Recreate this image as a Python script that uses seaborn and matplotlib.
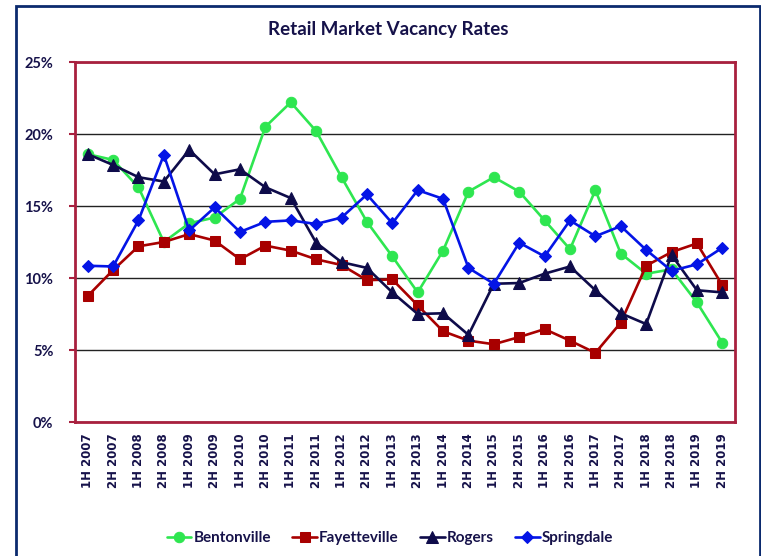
import matplotlib
matplotlib.use("Agg")
import matplotlib.pyplot as plt
from matplotlib.patches import Rectangle
from matplotlib.ticker import FuncFormatter
import seaborn as sns
import pandas as pd

periods = [f"{h} {y}" for y in range(2007, 2020) for h in ("1H", "2H")]

bentonville = [18.6, 18.2, 16.3, 12.5, 13.8, 14.2, 15.5, 20.5, 22.2, 20.2, 17.0, 13.9, 11.5,
               9.0, 11.9, 16.0, 17.0, 16.0, 14.0, 12.0, 16.1, 11.7, 10.3, 10.6, 8.3, 5.5]
fayetteville = [8.75, 10.55, 12.2, 12.5, 13.05, 12.6, 11.3, 12.25, 11.9, 11.3, 10.9, 9.85, 9.9,
                8.1, 6.3, 5.65, 5.4, 5.9, 6.45, 5.65, 4.8, 6.9, 10.85, 11.8, 12.4, 9.5]
rogers = [18.6, 17.85, 17.0, 16.7, 18.9, 17.2, 17.55, 16.3, 15.55, 12.45, 11.1, 10.7, 9.0,
          7.5, 7.55, 6.05, 9.6, 9.65, 10.3, 10.8, 9.15, 7.55, 6.8, 11.6, 9.15, 9.0]
springdale = [10.85, 10.8, 14.0, 18.55, 13.3, 14.9, 13.2, 13.9, 14.0, 13.75, 14.2, 15.8, 13.8,
              16.1, 15.5, 10.7, 9.6, 12.45, 11.5, 14.0, 12.9, 13.6, 11.95, 10.5, 10.95, 12.1]

cities = ["Bentonville", "Fayetteville", "Rogers", "Springdale"]
series = [bentonville, fayetteville, rogers, springdale]
colors = {"Bentonville": "#2ee650", "Fayetteville": "#a80000",
          "Rogers": "#0e0b4a", "Springdale": "#0414e6"}
markers = {"Bentonville": "o", "Fayetteville": "s", "Rogers": "^", "Springdale": "D"}
msizes = {"Bentonville": 7.5, "Fayetteville": 7.5, "Rogers": 8.0, "Springdale": 6.5}

df = pd.DataFrame({
    "period": [p for _ in cities for p in periods],
    "rate": [v for s in series for v in s],
    "city": [c for c in cities for _ in periods],
})

sns.set_theme(style="white")
plt.rcParams["font.family"] = ["DejaVu Sans"]
navy_text = "#16124a"
spine_col = "#a8203e"
narrow = ["Lato", "DejaVu Sans"]

fig = plt.figure(figsize=(7.61, 5.56), dpi=100)
ax = fig.add_axes([75 / 761, 1 - 422 / 556, 660 / 761, 360 / 556])

sns.lineplot(data=df, x="period", y="rate", hue="city", style="city",
             palette=colors, markers=markers, dashes=False, linewidth=1.9,
             sort=False, legend=False, ax=ax)

for line, c in zip(ax.lines, cities):
    line.set_markeredgecolor(colors[c])
    line.set_markerfacecolor(colors[c])
    line.set_markersize(msizes[c])

ax.set_xlim(-0.5, len(periods) - 0.5)
ax.set_ylim(0, 25)
ax.set_yticks([0, 5, 10, 15, 20, 25])
ax.yaxis.set_major_formatter(FuncFormatter(lambda v, p: f"{v:.0f}%"))
ax.set_xlabel("")
ax.set_ylabel("")
ax.grid(axis="y", color="#222222", linewidth=1.0)
ax.grid(axis="x", visible=False)
ax.set_axisbelow(True)

for s in ax.spines.values():
    s.set_color(spine_col)
    s.set_linewidth(2.0)
    s.set_visible(True)

ax.tick_params(axis="y", which="major", left=True, length=4.5, width=1.5,
               color=spine_col, pad=11, labelsize=10.5, labelcolor=navy_text)
ax.tick_params(axis="x", length=0, pad=8, labelsize=8.5, labelcolor=navy_text)
for lab in ax.get_yticklabels():
    lab.set_fontweight("bold")
    lab.set_family(narrow)
for lab in ax.get_xticklabels():
    lab.set_fontweight("bold")
    lab.set_rotation(90)

fig.text(388 / 761, 1 - 30 / 556, "Retail Market Vacancy Rates",
         ha="center", va="center", fontsize=13.5, fontweight="bold",
         color=navy_text, family=narrow)

fig.legend(handles=ax.lines[:4], labels=cities, loc="center",
           bbox_to_anchor=(390 / 761, 1 - 538 / 556), ncol=4, frameon=False,
           handlelength=1.6, columnspacing=1.4, handletextpad=0.15,
           prop={"weight": "bold", "size": 11, "family": narrow},
           labelcolor=navy_text)

fig.patches.append(Rectangle((16 / 761, -0.05), (760 - 16) / 761, 1.05 - 6 / 556,
                             transform=fig.transFigure, fill=False,
                             edgecolor="#0b2a6e", linewidth=2.0, clip_on=False))

fig.savefig("out.png", dpi=100)
